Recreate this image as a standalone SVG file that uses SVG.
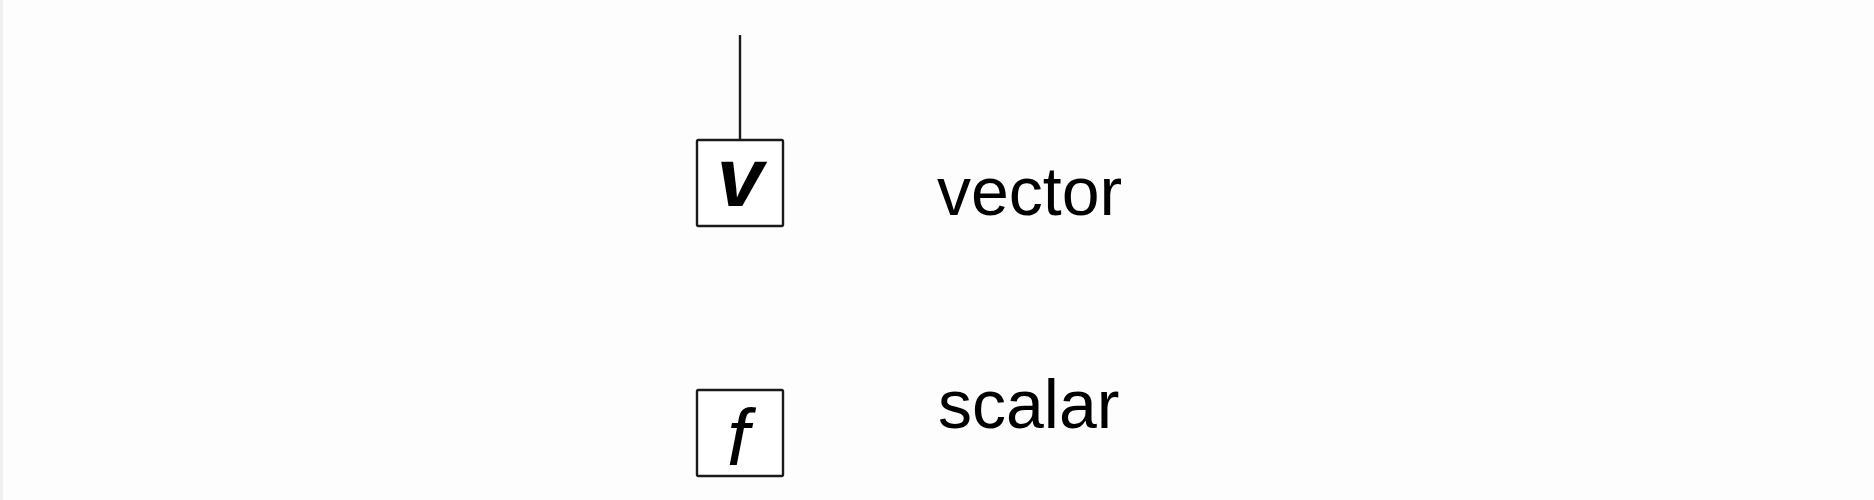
<svg xmlns="http://www.w3.org/2000/svg" width="1874" height="500" viewBox="0 0 1874 500">
<style>
.box{fill:#ffffff;stroke:#1a1a1a;stroke-width:2.4}
.sym{font-family:"Liberation Sans",Arial,sans-serif;font-style:italic;fill:#000;text-anchor:middle}
.lbl{font-family:"Liberation Sans",Arial,sans-serif;font-size:68px;fill:#000}
.conn{stroke:#1a1a1a;stroke-width:2.4;fill:none}
</style>
<rect x="0" y="0" width="1874" height="500" fill="#fdfdfd"/>
<rect x="0" y="0" width="3" height="500" fill="#efefef"/>
<g id="connectors">
<line class="conn" x1="740" y1="35" x2="740" y2="140"/>
</g>
<g id="node-vector">
<rect class="box" x="697" y="140" width="86" height="86" rx="1.5"/>
<text class="sym" x="740" y="206" font-size="84" font-weight="bold">v</text>
</g>
<g id="label-vector">
<text class="lbl" x="937" y="215">vector</text>
</g>
<g id="node-scalar">
<rect class="box" x="697" y="390" width="86" height="86" rx="1.5"/>
<text class="sym" x="738" y="465" font-size="80">f</text>
</g>
<g id="label-scalar">
<text class="lbl" x="938" y="428">scalar</text>
</g>
</svg>
